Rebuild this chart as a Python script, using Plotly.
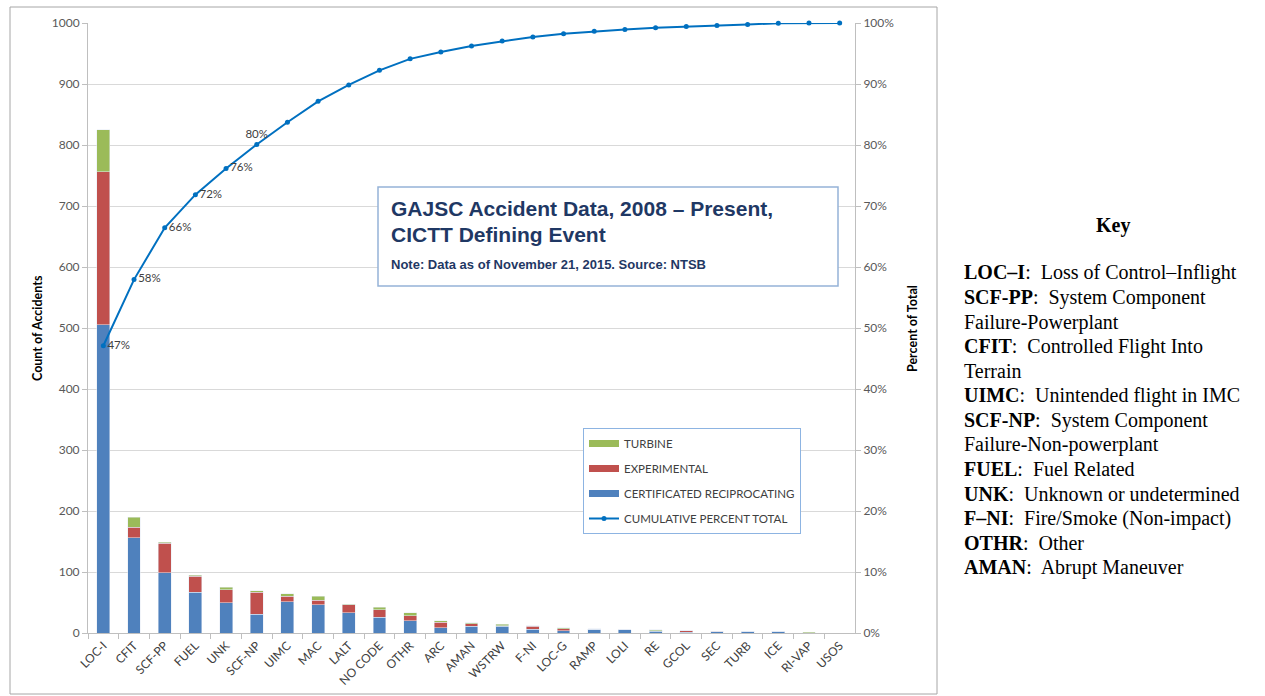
import plotly.graph_objects as go
import numpy as np

# ---------------- data ----------------
categories = ["LOC-I", "CFIT", "SCF-PP", "FUEL", "UNK", "SCF-NP", "UIMC", "MAC", "LALT",
              "NO CODE", "OTHR", "ARC", "AMAN", "WSTRW", "F-NI", "LOC-G", "RAMP", "LOLI",
              "RE", "GCOL", "SEC", "TURB", "ICE", "RI-VAP", "USOS"]
certificated = [505, 156, 99, 67, 50, 31, 51, 46, 33, 26, 20, 9, 11, 11, 6, 4, 6, 5, 3, 1, 2, 3, 3, 0, 0]
experimental = [251, 17, 48, 26, 21, 36, 9, 8, 13, 12, 8, 9, 4, 1, 5, 3, 0, 0, 1, 3, 1, 0, 0, 0, 0]
turbine = [69, 17, 2, 2, 4, 2, 4, 6, 1, 4, 5, 2, 2, 2, 1, 2, 1, 0, 1, 0, 0, 0, 0, 1, 0]
labelled_points = 6

y_ticks = list(range(0, 1001, 100))
pct_ticks = [i / 10 for i in range(11)]

key_items = [
    ("LOC–I", ":  Loss of Control–Inflight"),
    ("SCF-PP", ":  System Component"),
    ("", "Failure-Powerplant"),
    ("CFIT", ":  Controlled Flight Into"),
    ("", "Terrain"),
    ("UIMC", ":  Unintended flight in IMC"),
    ("SCF-NP", ":  System Component"),
    ("", "Failure-Non-powerplant"),
    ("FUEL", ":  Fuel Related"),
    ("UNK", ":  Unknown or undetermined"),
    ("F–NI", ":  Fire/Smoke (Non-impact)"),
    ("OTHR", ":  Other"),
    ("AMAN", ":  Abrupt Maneuver"),
]

# ---------------- derived ----------------
totals = np.array(certificated) + np.array(experimental) + np.array(turbine)
cum_pct = np.cumsum(totals) / totals.sum()
pt_text = [f"{round(c * 100)}%" if i < labelled_points else "" for i, c in enumerate(cum_pct)]
pt_pos = ["middle right"] * len(categories)
pt_pos[labelled_points - 1] = "top center"

W, H = 1265, 696
def px(x):
    return x / W
def py(y):
    return 1 - y / H

BLUE = "#4F81BD"
RED = "#C0504D"
GREEN = "#9BBB59"
LINE = "#0070C0"
AXIS = "#BFBFBF"
GRID = "#D9D9D9"
TXT = "#404040"
TICK = "#595959"
FONT = "Lato, Liberation Sans, sans-serif"

fig = go.Figure()
fig.add_trace(go.Bar(x=categories, y=certificated, name="CERTIFICATED RECIPROCATING",
                     marker_color=BLUE, showlegend=False))
fig.add_trace(go.Bar(x=categories, y=experimental, name="EXPERIMENTAL",
                     marker_color=RED, showlegend=False))
fig.add_trace(go.Bar(x=categories, y=turbine, name="TURBINE",
                     marker_color=GREEN, showlegend=False))
fig.add_trace(go.Scatter(x=categories, y=cum_pct, name="CUMULATIVE PERCENT TOTAL", yaxis="y2",
                         mode="lines+markers+text", text=pt_text, textposition=pt_pos,
                         textfont=dict(family=FONT, size=11.5, color=TXT),
                         line=dict(color=LINE, width=2), marker=dict(size=5, color=LINE),
                         legendrank=4, legendgroup="l", cliponaxis=False))
# legend swatches (wide rectangles like the original legend)
for nm, col, rk in [("TURBINE", GREEN, 1), ("EXPERIMENTAL", RED, 2),
                    ("CERTIFICATED RECIPROCATING", BLUE, 3)]:
    fig.add_trace(go.Scatter(x=[None], y=[None], mode="lines", name=nm,
                             line=dict(color=col, width=7), legendrank=rk, legendgroup=nm))

x0, x1 = 88, 855
y0, y1 = 23, 633

fig.update_layout(
    width=W, height=H,
    margin=dict(l=0, r=0, t=0, b=0, autoexpand=False),
    paper_bgcolor="white", plot_bgcolor="white",
    barmode="stack", bargap=0.58,
    font=dict(family=FONT, size=11, color=TXT),
    xaxis=dict(domain=[px(x0), px(x1)], type="category", tickangle=-45, automargin=False,
               range=[-0.5, len(categories) - 0.5],
               tickson="boundaries", ticks="outside", ticklen=5, tickcolor=AXIS,
               showline=True, linecolor=AXIS, showgrid=False,
               tickfont=dict(family=FONT, size=12, color=TXT)),
    yaxis=dict(domain=[py(y1), py(y0)], range=[0, 1000], tickvals=y_ticks, automargin=False,
               ticks="outside", ticklen=5, tickcolor=AXIS, showline=True, linecolor=AXIS,
               gridcolor=GRID, zeroline=False, tickfont=dict(family=FONT, size=12, color=TICK)),
    yaxis2=dict(overlaying="y", side="right", range=[0, 1], tickvals=pct_ticks, automargin=False,
                tickformat=".0%", ticks="outside", ticklen=5, tickcolor=AXIS,
                showline=True, linecolor=AXIS, showgrid=False, zeroline=False,
                tickfont=dict(family=FONT, size=12, color=TICK)),
    legend=dict(x=px(583), y=py(428), xanchor="left", yanchor="top",
                bgcolor="white", bordercolor="#8DB4E2", borderwidth=1,
                traceorder="grouped", tracegroupgap=6, itemwidth=30,
                font=dict(family=FONT, size=11.5, color=TXT)),
    showlegend=True,
)

shapes = [
    # outer chart frame
    dict(type="rect", xref="paper", yref="paper", x0=px(10), x1=px(937), y0=py(694), y1=py(7),
         line=dict(color="#A6A6A6", width=1), fillcolor="rgba(0,0,0,0)", layer="below"),
    # title box
    dict(type="rect", xref="paper", yref="paper", x0=px(378), x1=px(838), y0=py(286), y1=py(187),
         line=dict(color="#95B3D7", width=1.5), fillcolor="white", layer="above"),
]
fig.update_layout(shapes=shapes)

NAVY = "#1F3864"
ann = [
    dict(x=px(389), y=py(208), text="<b>GAJSC Accident Data, 2008 – Present,</b>",
         font=dict(family="Liberation Sans, Arial", size=21, color=NAVY)),
    dict(x=px(389), y=py(234), text="<b>CICTT Defining Event</b>",
         font=dict(family="Liberation Sans, Arial", size=21, color=NAVY)),
    dict(x=px(389), y=py(264), text="<b>Note: Data as of November 21, 2015. Source: NTSB</b>",
         font=dict(family="Liberation Sans, Arial", size=13, color=NAVY)),
]
for a in ann:
    a.update(xref="paper", yref="paper", xanchor="left", yanchor="middle", showarrow=False)
fig.update_layout(annotations=ann)

fig.add_annotation(x=px(37), y=py(328), xref="paper", yref="paper", text="<b>Count of Accidents</b>",
                   textangle=-90, showarrow=False, xanchor="center", yanchor="middle",
                   font=dict(family=FONT, size=12.5, color="black"))
fig.add_annotation(x=px(912), y=py(328), xref="paper", yref="paper", text="<b>Percent of Total</b>",
                   textangle=-90, showarrow=False, xanchor="center", yanchor="middle",
                   font=dict(family=FONT, size=12.5, color="black"))

SERIF = "Liberation Serif, Times New Roman, serif"
fig.add_annotation(x=px(1113), y=py(225), xref="paper", yref="paper", text="<b>Key</b>",
                   xanchor="center", yanchor="middle", showarrow=False,
                   font=dict(family=SERIF, size=20, color="black"))
for i, (b, rest) in enumerate(key_items):
    txt = (f"<b>{b}</b>" if b else "") + rest
    fig.add_annotation(x=px(962), y=py(273 + 24.5 * i), xref="paper", yref="paper", text=txt,
                       xanchor="left", yanchor="middle", showarrow=False,
                       font=dict(family=SERIF, size=20, color="black"))

fig.write_html("out.html", config={"displayModeBar": False},
               post_script="document.body.style.margin='0';")
